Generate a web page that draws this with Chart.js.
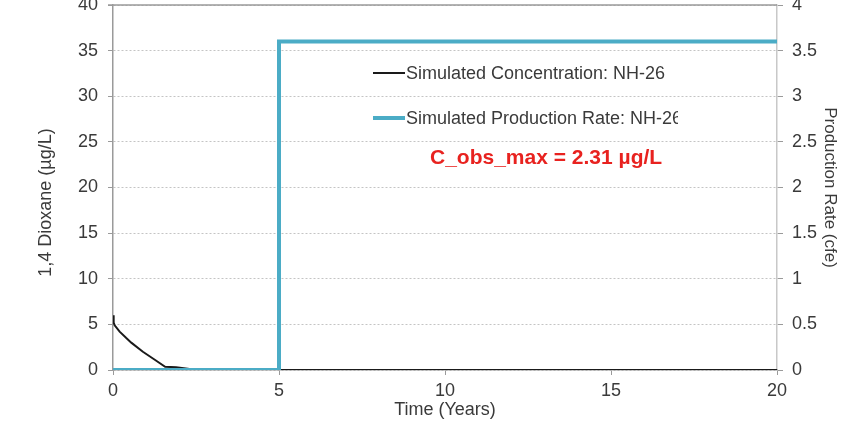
<!DOCTYPE html>
<html>
<head>
<meta charset="utf-8">
<script src="https://cdn.jsdelivr.net/npm/chart.js@4.4.1/dist/chart.umd.min.js"></script>
<style>
  html, body { margin: 0; padding: 0; background: #fff; }
  #wrap { width: 849px; height: 445px; position: relative; }
</style>
</head>
<body>
<div id="wrap"><canvas id="chart"></canvas></div>
<script>
// Simulated concentration (µg/L) vs time (years)
const concTime  = [0, 0.02, 0.05, 0.2, 0.4, 0.55, 0.9, 1.27, 1.57, 1.9, 2.25, 2.5, 20];
const concValue = [6.0, 5.2, 4.9, 4.2, 3.5, 3.0, 2.0, 1.1, 0.35, 0.3, 0.15, 0, 0];

// Simulated production rate (step at year 5)
const rateTime  = [0, 5, 5, 20];
const rateValue = [0, 0, 3.6, 3.6];

const xTicks = [0, 5, 10, 15, 20];
const seriesLabels = ['Simulated Concentration: NH-26', 'Simulated Production Rate: NH-26'];
const noteText = 'C_obs_max = 2.31 µg/L';

const FONT = "'Liberation Sans', Arial, sans-serif";
const TEXT = '#3a3a3a';
const AXIS = '#9a9a9a';

function pts(xs, ys) {
    return xs.map((x, i) => ({ x: x, y: ys[i] }));
}

function noPad(s) {
    s.paddingTop = 0;
    s.paddingBottom = 0;
}

// top border, legend inside the plot, and the red note
const overlay = {
    id: 'overlay',
    afterDatasetsDraw(chart) {
        const ctx = chart.ctx;
        const a = chart.chartArea;
        ctx.save();
        ctx.strokeStyle = AXIS;
        ctx.lineWidth = 1.5;
        ctx.beginPath();
        ctx.moveTo(a.left - 5, a.top);
        ctx.lineTo(a.right, a.top);
        ctx.stroke();

        ctx.beginPath();
        ctx.rect(a.left, a.top, 678 - a.left, a.bottom - a.top);
        ctx.clip();
        const ds = chart.data.datasets;
        const rows = [{ y: 73, ds: ds[0] }, { y: 118, ds: ds[1] }];
        ctx.font = '18px ' + FONT;
        ctx.textBaseline = 'middle';
        rows.forEach(r => {
            ctx.strokeStyle = r.ds.borderColor;
            ctx.lineWidth = r.ds.borderWidth;
            ctx.beginPath();
            ctx.moveTo(373, r.y);
            ctx.lineTo(405, r.y);
            ctx.stroke();
            ctx.fillStyle = TEXT;
            ctx.fillText(r.ds.label, 406, r.y + 1);
        });
        ctx.restore();

        ctx.save();
        ctx.font = 'bold 21px ' + FONT;
        ctx.fillStyle = '#e8221f';
        ctx.textBaseline = 'middle';
        ctx.fillText(noteText, 430, 158);
        ctx.restore();
    }
};

const ctx = document.getElementById('chart').getContext('2d');
new Chart(ctx, {
    type: 'line',
    data: {
        datasets: [{
            label: seriesLabels[0],
            data: pts(concTime, concValue),
            yAxisID: 'y',
            borderColor: '#1a1a1a',
            borderWidth: 2,
            pointRadius: 0,
            tension: 0,
            order: 2
        }, {
            label: seriesLabels[1],
            data: pts(rateTime, rateValue),
            yAxisID: 'y1',
            borderColor: '#4bacc6',
            borderWidth: 4,
            pointRadius: 0,
            tension: 0,
            order: 1
        }]
    },
    options: {
        responsive: true,
        maintainAspectRatio: false,
        animation: false,
        layout: { padding: { top: 5, left: 0, right: 0, bottom: 0 } },
        plugins: {
            legend: { display: false },
            tooltip: { enabled: false }
        },
        scales: {
            x: {
                type: 'linear',
                min: 0,
                max: 20,
                afterBuildTicks: s => { s.ticks = xTicks.map(v => ({ value: v })); },
                afterFit: s => { s.height = 75; s.paddingLeft = 0; s.paddingRight = 0; },
                grid: {
                    drawOnChartArea: false,
                    tickLength: 5,
                    tickColor: AXIS
                },
                border: { color: AXIS, width: 1.5 },
                ticks: {
                    padding: 5,
                    color: TEXT,
                    font: { family: FONT, size: 18 },
                    maxRotation: 0
                },
                title: {
                    display: true,
                    text: 'Time (Years)',
                    color: TEXT,
                    font: { family: FONT, size: 18 },
                    padding: { top: 0, bottom: 24 }
                }
            },
            y: {
                position: 'left',
                min: 0,
                max: 40,
                afterFit: s => { s.width = 113; noPad(s); },
                grid: {
                    color: '#c4c4c4',
                    lineWidth: 1,
                    tickLength: 5,
                    tickColor: AXIS,
                    tickBorderDash: []
                },
                border: { color: AXIS, width: 1.5, dash: [2, 2] },
                ticks: {
                    stepSize: 5,
                    padding: 10,
                    color: TEXT,
                    font: { family: FONT, size: 18 }
                },
                title: {
                    display: true,
                    // trailing spaces nudge the rotated title down a little
                    text: '1,4 Dioxane (µg/L)\u00A0\u00A0\u00A0\u00A0\u00A0\u00A0',
                    color: TEXT,
                    font: { family: FONT, size: 18 },
                    padding: { top: 35, bottom: 0 }
                }
            },
            y1: {
                position: 'right',
                min: 0,
                max: 4,
                afterFit: s => { s.width = 72; noPad(s); },
                grid: {
                    drawOnChartArea: false,
                    tickLength: 6,
                    tickColor: AXIS
                },
                border: { color: '#c8c8c8', width: 1.5 },
                ticks: {
                    stepSize: 0.5,
                    padding: 9,
                    color: TEXT,
                    font: { family: FONT, size: 18 },
                    callback: v => String(v)
                },
                title: {
                    display: true,
                    text: 'Production Rate (cfe)',
                    color: TEXT,
                    font: { family: FONT, size: 17 },
                    padding: { top: 9, bottom: 0 }
                }
            }
        }
    },
    plugins: [overlay]
});
</script>
</body>
</html>
